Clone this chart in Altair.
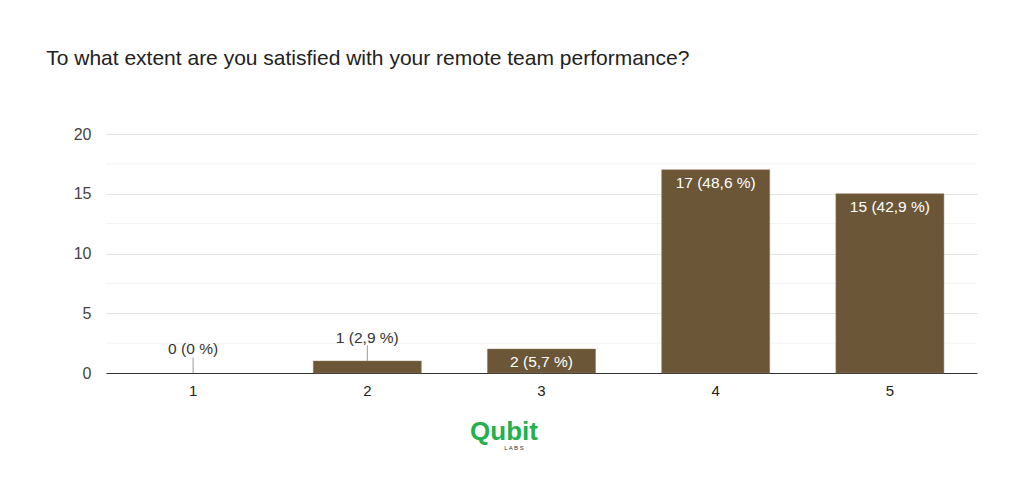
import altair as alt
import pandas as pd

categories = ["1", "2", "3", "4", "5"]
counts = [0, 1, 2, 17, 15]
labels = ["0 (0 %)", "1 (2,9 %)", "2 (5,7 %)", "17 (48,6 %)", "15 (42,9 %)"]
minor_grid = [2.5, 7.5, 12.5, 17.5]

df = pd.DataFrame({"cat": categories, "count": counts, "label": labels})
df["inside"] = df["count"] >= 2
grid_df = pd.DataFrame({"g": minor_grid})

FONT = "Liberation Sans"
BAR = "#6b5737"

yaxis = alt.Axis(values=[0, 5, 10, 15, 20], labelFontSize=16,
                 labelColor="#444", labelPadding=15, ticks=False,
                 domain=False, gridColor="#e4e4e4", labelFont=FONT, title=None)
yscale = alt.Scale(domain=[0, 20], nice=False)
xsc = alt.Scale(paddingInner=0.38, paddingOuter=0.19)
xaxis = alt.Axis(labelAngle=0, labelFontSize=15, labelColor="#222",
                 labelPadding=10, ticks=False, domain=True,
                 domainColor="#333", domainWidth=1.2, labelFont=FONT, title=None)

x = alt.X("cat:N", sort=categories, scale=xsc, axis=xaxis)

minor = alt.Chart(grid_df).mark_rule(color="#f3f3f3", strokeWidth=1).encode(
    y=alt.Y("g:Q", scale=yscale, axis=yaxis)
)

bars = alt.Chart(df).transform_filter("datum.count > 0").mark_bar(
    color=BAR, stroke="#8a7658", strokeWidth=0.5
).encode(x=x, y=alt.Y("count:Q", scale=yscale, axis=yaxis))

inside = alt.Chart(df).transform_filter("datum.inside").mark_text(
    baseline="top", dy=6, color="white", fontSize=15.5, font=FONT
).encode(x=x, y=alt.Y("count:Q", scale=yscale, axis=yaxis), text="label:N")

outside_base = alt.Chart(df).transform_filter("!datum.inside").transform_calculate(
    top="datum.count + 1.3"
)
leader = outside_base.mark_rule(color="#999", strokeWidth=1).encode(
    x=x,
    y=alt.Y("count:Q", scale=yscale, axis=yaxis),
    y2="top:Q",
)
outside = outside_base.mark_text(
    baseline="alphabetic", dy=-3, color="#333", fontSize=15.5, font=FONT
).encode(x=x, y=alt.Y("top:Q", scale=yscale, axis=yaxis), text="label:N")

logo = alt.Chart(pd.DataFrame({"t": ["Qubit"]})).mark_text(
    color="#22b14c", fontSize=26, fontWeight="bold", font=FONT, align="center"
).encode(x=alt.value(398), y=alt.value(298), text="t:N")
logo2 = alt.Chart(pd.DataFrame({"t": ["L A B S"]})).mark_text(
    color="#333", fontSize=6, font=FONT, align="center"
).encode(x=alt.value(408), y=alt.value(314), text="t:N")

chart = alt.layer(minor, bars, inside, leader, outside, logo, logo2).properties(
    width=871, height=239,
    title=alt.TitleParams(
        "To what extent are you satisfied with your remote team performance?",
        anchor="start", fontSize=21, fontWeight="normal", color="#222",
        font=FONT, dx=-27, offset=57,
    ),
    autosize=alt.AutoSizeParams(type="none"),
    padding={"left": 98, "top": 126, "right": 38, "bottom": 100},
).configure_view(stroke=None)

chart.save("out.html", embed_options={"renderer": "svg", "actions": False})
